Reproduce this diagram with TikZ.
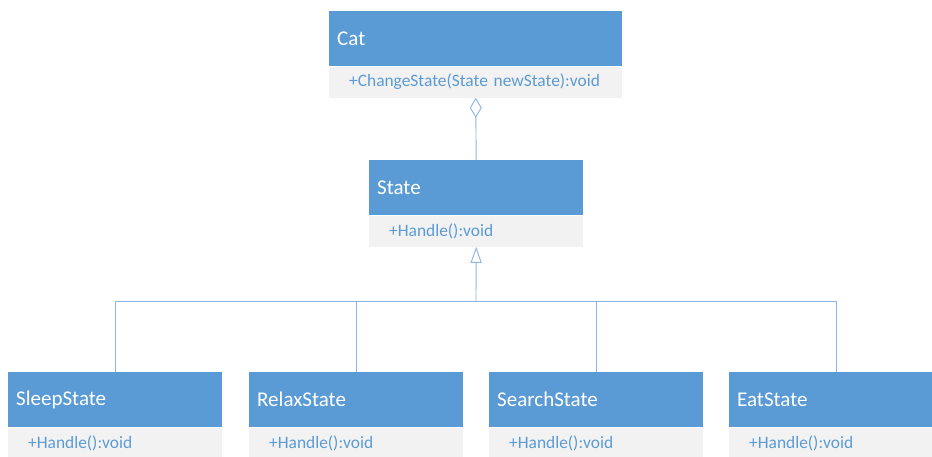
\documentclass[tikz,border=0pt]{standalone}
\usepackage{fontspec}
\setmainfont{Carlito}
\usetikzlibrary{positioning,arrows.meta}
\definecolor{umlblue}{HTML}{5B9BD5}
\definecolor{umlgray}{HTML}{F2F2F2}
\definecolor{umlline}{HTML}{8DB3E2}
\tikzset{
    classhead/.style={rectangle, fill=umlblue, text=white, anchor=north west,
        minimum height=55pt, inner xsep=8pt, text width=198pt, align=left,
        font=\fontsize{21}{24}\selectfont},
    classbody/.style={rectangle, fill=umlgray, text=umlblue,
        minimum height=31pt, inner xsep=20pt, text width=174pt, align=left,
        font=\fontsize{17.4}{20}\selectfont},
    link/.style={draw=umlline, line width=0.9pt}
}
\begin{document}
\begin{tikzpicture}[x=1pt, y=-1pt]
        \useasboundingbox (0,0) rectangle (932,457);
        \clip (0,0) rectangle (932,457);
        % context and abstract state
        \node[classhead, text width=277pt] (cat) at (329,11) {Cat};
        \node[classbody, text width=253pt, below=0pt of cat] (cat-m) {+ChangeState(State newState):void};
        \node[classhead] (state) at (369,160) {State};
        \node[classbody, below=0pt of state] (state-m) {+Handle():void};
        % concrete states
        \node[classhead] (sleep) at (8,372) {SleepState};
        \node[classbody, below=0pt of sleep] (sleep-m) {+Handle():void};
        \node[classhead] (relax) at (249,372) {RelaxState};
        \node[classbody, below=0pt of relax] (relax-m) {+Handle():void};
        \node[classhead] (search) at (489,372) {SearchState};
        \node[classbody, below=0pt of search] (search-m) {+Handle():void};
        \node[classhead] (eat) at (729,372) {EatState};
        \node[classbody, below=0pt of eat] (eat-m) {+Handle():void};
        % aggregation
        \draw[link, -{Diamond[open, fill=white, length=20pt, width=12pt]}] (state.north) -- (cat-m.south);
        % inheritance
        \coordinate (bus) at (476,301);
        \draw[link, -{Triangle[open, fill=white, length=16pt, width=11pt]}] (bus) -- (state-m.south);
        \draw[link] (sleep.north) |- (bus);
        \draw[link] (relax.north) |- (bus);
        \draw[link] (search.north) |- (bus);
        \draw[link] (eat.north) |- (bus);
    \end{tikzpicture}
\end{document}
